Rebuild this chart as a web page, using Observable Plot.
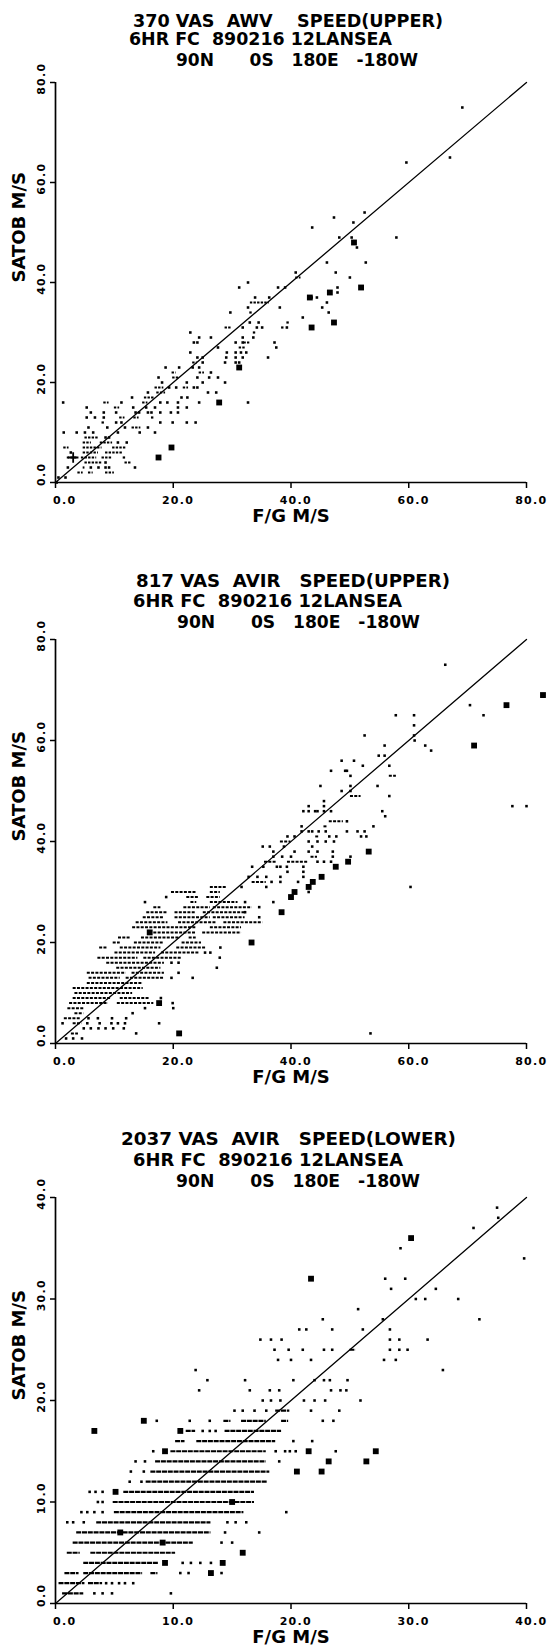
<!DOCTYPE html>
<html><head><meta charset="utf-8">
<script src="https://cdn.jsdelivr.net/npm/d3@7"></script>
<script src="https://cdn.jsdelivr.net/npm/@observablehq/plot@0.6"></script>
<style>
body{margin:0;background:#fff;}
#chart svg{display:block;}
</style></head><body><div id="chart"></div>
<script>
// ---------- text ----------
const titles1 = ["370 VAS  AWV    SPEED(UPPER)", "6HR FC  890216 12LANSEA", "90N      0S   180E   -180W"];
const titles2 = ["817 VAS  AVIR   SPEED(UPPER)", "6HR FC  890216 12LANSEA", "90N      0S   180E   -180W"];
const titles3 = ["2037 VAS  AVIR   SPEED(LOWER)", "6HR FC  890216 12LANSEA", "90N      0S   180E   -180W"];
const xLabel = "F/G M/S";
const yLabel = "SATOB M/S";
const ticks80 = [0, 20, 40, 60, 80];
const ticks40 = [0, 10, 20, 30, 40];
const diag80 = [0, 80];
const diag40 = [0, 40];

// ---------- panel 1 : [satob, fgFrom, fgTo] runs, [fg, satob] dots ----------
const runs1 = [[2,3.8,4.7],[2,5.6,6.4],[2,8.5,10.0],[3,4.7,5.0],[4,5.0,7.9],[4,11.8,13.0],
[5,2.0,3.8],[5,4.4,7.0],[5,7.9,9.7],[5,11.5,12.1],[6,4.7,7.3],[6,8.5,11.5],[7,1.4,2.3],[7,4.7,7.9],[7,9.7,12.1],
[8,4.7,6.1],[8,7.6,9.7],[9,5.0,7.3],[11,13.0,14.5],[12,7.9,8.5],[13,10.9,11.8],[13,13.3,14.2],[13,16.3,16.9],
[15,10.0,10.9],[16,8.2,9.1],[16,14.8,15.7],[17,15.1,16.9],[18,17.2,18.7],[19,16.9,18.4],[19,21.7,22.6],
[21,19.9,21.1],[22,19.8,20.5],[22,24.4,25.3],[24,23.3,24.1],[27,31.2,32.4],[28,32.0,33.0],[30,33.6,34.2],
[31,28.8,30.0],[31,38.4,39.0],[32,39.3,39.9],[34,33.0,33.6],[36,33.1,36.3],[41,40.8,41.7]];
const dots1 = [[0.2,0],[0.5,1],[1.7,1],[2.1,3],[6.0,3],[7.3,3],[8.5,3],[9.1,3],[13.5,3],[8.5,4],[2.6,6],[12.1,8],[10.6,8],[8.5,9],[9.1,9],
[1.4,10],[3.6,10],[5.0,10],[6.4,10],[10.6,10],[14.3,10],[16.9,10],[5.6,11],[8.8,11],[11.8,11],[15.7,11],
[10.3,12],[11.2,12],[17.8,12],[19.9,12],[22.3,12],[23.8,12],[5.3,13],[6.7,13],[8.2,13],
[6.0,14],[8.2,14],[10.3,14],[13.6,14],[14.2,14],[15.7,14],[16.3,14],[17.8,14],[19.6,14],[20.8,14],
[5.3,15],[13.2,15],[15.4,15],[16.9,15],[20.8,15],[22.3,15],[1.3,16],[11.2,16],[17.8,16],[19.0,16],[20.8,16],[24.4,16],[32.7,16],
[13.0,17],[21.4,17],[22.4,17],[15.7,18],[25.9,18],[27.3,18],[19.3,19],[20.5,19],[23.5,19],[24.1,19],
[18.1,20],[22.3,20],[25.0,20],[28.8,20],[17.5,21],[24.1,21],[26.1,21],[27.6,21],[26.4,22],
[18.7,23],[21.0,23],[23.3,23],[24.4,23],[25.0,24],[28.8,24],[30.6,24],[31.2,24],
[24.1,25],[25.0,25],[29.0,25],[30.6,25],[31.8,25],[36.1,25],[22.9,26],[29.1,26],[30.6,26],[31.5,26],[32.4,26],
[27.6,27],[37.5,27],[23.5,28],[24.1,28],[30.6,28],[31.8,28],[37.2,28],[24.4,29],[26.4,29],[31.8,29],[33.6,29],
[22.9,30],[31.8,31],[34.2,31],[35.1,31],[39.3,31],[33.0,32],[34.5,32],[42.0,33],[29.7,34],[46.4,34],
[32.7,35],[38.1,35],[45.3,35],[46.1,36],[33.9,37],[36.3,37],[43.5,37],[44.4,37],[46.4,38],[47.9,38],
[31.2,39],[37.8,39],[39.0,39],[47.9,39],[32.7,40],[50.0,41],[40.8,42],[47.6,42],[46.1,44],[52.7,44],
[51.2,47],[48.2,49],[50.3,49],[57.9,49],[43.6,51],[50.6,52],[47.3,53],[52.5,54],[59.6,64],[67.0,65],[69.1,75]];
const big1 = [[17.5,5],[19.7,7],[27.8,16],[31.2,23],[43.2,37],[43.5,31],[46.6,38],[47.3,32],[50.7,48],[51.9,39]];
const plus1 = [[3.0,5]];

// ---------- panel 2 ----------
const runs2 = [[2,2.7,3.9],[4,3.0,4.5],[5,1.5,4.2],[6,3.3,4.8],[7,2.1,4.8],[8,2.4,9.0],[8,10.5,16.7],
[9,3.0,9.5],[9,11.0,16.1],[10,3.3,13.1],[11,3.0,14.9],[12,5.4,14.9],[13,5.7,11.0],[13,12.0,18.5],
[14,5.4,12.0],[14,13.0,18.5],[15,10.4,17.9],[16,8.7,18.5],[17,7.2,14.0],[17,15.0,21.5],[18,10.1,17.0],[18,18.0,24.5],
[19,7.5,8.9],[19,11.0,17.9],[19,20.6,25.7],[20,9.8,11.0],[20,13.4,18.5],[20,21.5,24.8],[21,10.7,12.8],[21,14.6,21.2],[21,22.7,23.9],
[22,16.7,24.0],[22,25.0,31.6],[23,13.1,23.9],[23,26.3,31.6],[24,13.7,19.1],[24,20.9,27.4],[24,28.6,35.2],
[25,14.9,18.5],[25,20.3,26.3],[25,26.8,32.2],[26,15.5,19.1],[26,20.3,23.9],[26,25.1,32.2],
[27,16.7,17.9],[27,21.8,26.3],[27,26.8,33.4],[28,23.0,24.0],[28,26.3,31.0],[29,22.3,24.4],[29,25.7,28.0],
[30,19.7,23.9],[30,26.3,28.0],[31,26.3,29.2],[32,33.4,35.8],[36,35.5,37.6],[36,39.4,43.0],[37,43.4,44.5],
[40,38.2,40.0],[41,44.2,44.7],[43,45.6,46.2],[44,46.5,48.9],[49,50.1,51.9],[53,56.7,57.9]];
const dots2 = [[1.8,1],[3.0,1],[4.5,1],[13.7,2],[53.5,2],[4.8,3],[6.0,3],[7.3,3],[8.5,3],[9.8,3],[11.6,3],
[1.2,4],[5.4,4],[7.5,4],[9.5,4],[10.6,4],[11.8,4],[17.6,4],[5.6,5],[7.2,5],[9.6,5],[12.0,5],[13.1,6],
[15.2,7],[20.0,7],[19.9,8],[17.9,9],[19.7,13],[23.3,13],[20.9,14],[27.4,15],[19.7,16],[20.9,16],[27.9,17],
[25.4,18],[26.3,18],[28.0,19],[32.2,26],[34.6,25],[34.6,27],[15.2,28],[32.2,28],[37.0,28],[18.8,29],[43.0,30],
[31.6,31],[35.8,31],[60.3,31],[36.7,32],[38.2,32],[41.2,32],[32.8,33],[34.3,33],[35.8,33],[38.2,33],[42.1,33],
[39.4,34],[42.1,34],[33.4,35],[35.3,35],[37.6,35],[38.2,35],[39.3,35],[42.1,35],[44.5,36],[45.6,36],[46.8,36],
[37.0,37],[38.5,37],[40.0,37],[47.1,37],[50.1,37],[37.0,38],[40.6,38],[43.0,38],[44.5,38],[47.1,38],
[35.2,39],[36.4,39],[38.8,39],[43.6,39],[43.0,40],[44.5,40],[45.9,40],[47.3,40],
[39.4,41],[40.6,41],[46.5,41],[47.7,41],[51.9,41],[52.8,41],[41.8,42],[43.0,42],[43.6,42],[44.7,42],[45.9,42],[49.5,42],[51.3,42],[52.5,42],
[41.8,43],[54.0,43],[49.5,44],[56.0,45],[42.1,46],[43.0,46],[44.1,46],[44.5,46],[45.6,46],[46.8,46],[55.5,46],
[43.0,47],[45.6,47],[77.6,47],[80.0,47],[45.6,48],[56.7,49],[48.6,50],[50.1,50],[45.0,51],[50.1,51],[54.7,51],
[50.1,53],[46.8,54],[49.2,54],[49.5,54],[52.2,55],[56.7,55],[48.6,56],[50.7,56],[54.9,57],[55.9,57],[63.8,58],
[55.9,59],[62.8,59],[61.0,60],[52.5,61],[60.9,61],[60.9,63],[57.8,65],[60.9,65],[72.7,65],[70.4,67],[66.2,75]];
const big2 = [[21.0,2],[17.6,8],[16.0,22],[33.3,20],[38.4,26],[40.0,29],[40.6,30],[43.0,31],[43.7,32],[45.2,33],[47.6,35],[49.7,36],[53.2,38],[71.1,59],[76.6,67],[82.8,69]];

// ---------- panel 3 ----------
const runs3 = [[1,0.6,2.4],[2,0.3,2.5],[2,2.8,4.0],[3,0.8,2.0],[3,2.4,7.4],[3,8.1,8.7],[4,2.4,8.8],
[5,1.0,2.1],[5,3.0,10.2],[6,1.5,11.7],[7,1.8,13.2],[8,3.5,13.2],[9,5.0,16.0],[10,4.9,16.9],[11,5.8,16.9],
[12,7.7,18.0],[13,8.1,18.2],[14,8.5,17.9],[15,9.8,17.9],[16,10.2,11.0],[16,12.0,18.7],[17,11.1,11.9],[17,14.4,19.2],
[18,14.3,14.9],[18,15.8,17.9],[18,19.2,19.8],[19,18.7,19.9],[25,25.0,25.5]];
const dots3 = [[3.3,1],[4.0,1],[4.8,1],[9.8,1],[4.3,2],[4.8,2],[5.4,2],[5.9,2],[6.6,2],[10.6,3],[11.3,3],[14.1,3],
[10.8,4],[11.5,4],[12.3,4],[13.2,4],[14.1,6],[15.0,6],[14.4,7],[17.3,7],[1.0,8],[1.5,8],[2.4,8],[14.6,8],[15.3,8],[16.2,8],
[2.2,9],[2.7,9],[3.3,9],[4.0,9],[19.6,9],[3.6,10],[4.0,10],[2.9,11],[3.4,11],[4.0,11],[6.3,12],[7.3,12],
[6.4,13],[7.5,13],[6.8,14],[7.6,14],[19.0,14],[8.3,15],[18.7,15],[19.5,15],[19.9,15],[20.4,15],[23.8,15],
[20.2,16],[21.8,16],[12.5,17],[13.1,17],[13.6,17],[8.6,18],[11.4,18],[13.1,18],[22.7,18],[23.6,18],
[15.2,19],[15.9,19],[16.9,19],[17.9,19],[21.7,19],[24.1,19],[17.6,20],[18.3,20],[19.1,20],[21.1,20],[22.0,20],[22.9,20],[25.9,20],
[12.2,21],[16.5,21],[18.2,21],[19.0,21],[23.4,21],[24.2,21],[24.7,21],[12.9,22],[16.1,22],[20.2,22],[22.0,22],[22.8,22],[23.3,22],[24.8,22],
[11.9,23],[32.9,23],[18.9,24],[20.0,24],[21.7,24],[27.9,24],[28.9,24],[18.6,25],[19.8,25],[21.0,25],[22.8,25],[23.5,25],[28.4,25],[29.2,25],[29.9,25],
[17.4,26],[18.3,26],[19.2,26],[28.4,26],[29.2,26],[31.6,26],[20.7,27],[21.3,27],[23.5,27],[26.1,27],[28.4,27],
[22.7,28],[27.8,28],[36.0,28],[25.7,29],[30.6,30],[31.4,30],[34.2,30],[28.5,31],[32.3,31],[28.0,32],[29.7,32],
[39.8,34],[29.3,35],[35.5,37],[37.6,38],[37.5,39]];
const big3 = [[3.3,17],[7.5,18],[10.6,17],[9.3,15],[5.1,11],[15.0,10],[9.1,6],[5.5,7],[9.3,4],[14.2,4],[13.2,3],[15.9,5],
[20.5,13],[22.6,13],[23.2,14],[26.4,14],[21.5,15],[27.2,15],[21.7,32],[30.2,36]];

const FONT = "DejaVu Sans";

function panel(cfg) {
  const fmt = d => d.toFixed(1);
  const marks = [
    Plot.ruleY([0], {strokeWidth: 1.7}),
    Plot.ruleX([0], {strokeWidth: 1.7}),
    // tick marks only
    Plot.axisX({ticks: cfg.ticks, tickSize: 6, strokeWidth: 1.5, fill: "none", label: null}),
    Plot.axisY({ticks: cfg.ticks, tickSize: 5, strokeWidth: 1.5, fill: "none", label: null}),
    // tick labels only
    Plot.axisX({ticks: cfg.ticks, tickFormat: fmt, tickSize: 0, tickPadding: 0,
      textAnchor: "end", dx: 21, dy: 14, fontSize: 11, fontWeight: "bold", label: null}),
    Plot.axisY({ticks: cfg.ticks, tickFormat: fmt, tickSize: 0, tickPadding: 0,
      rotate: -90, textAnchor: "end", lineAnchor: "middle", dx: -14.5, dy: -20, fontSize: 11, fontWeight: "bold", label: null}),
    Plot.line(cfg.diag, {x: d => d, y: d => d, strokeWidth: 1.3, stroke: "black"}),
    Plot.ruleY(cfg.runs, {y: d => d[0], x1: d => d[1], x2: d => d[2], strokeWidth: cfg.runWidth, strokeDasharray: cfg.runDash, stroke: "black"}),
    Plot.dot(cfg.dots, {x: d => d[0], y: d => d[1], symbol: "square", r: 1.45, fill: "black"}),
    Plot.dot(cfg.big, {x: d => d[0], y: d => d[1], symbol: "square", r: 3.3, fill: "black"}),
    Plot.text([xLabel], {frameAnchor: "bottom", dy: 39, fontSize: 18, fontWeight: "bold", text: d => d}),
    Plot.text([yLabel], {frameAnchor: "left", dx: -36, rotate: -90, fontSize: 18, fontWeight: "bold", text: d => d})
  ];
  if (cfg.plus) marks.push(Plot.dot(cfg.plus, {x: d => d[0], y: d => d[1], symbol: "plus", r: 3.5, stroke: "black", strokeWidth: 1.8}));
  const plot = Plot.plot({
    width: 551, height: cfg.height,
    marginTop: cfg.mt, marginBottom: cfg.mb, marginLeft: 55, marginRight: 25,
    style: {fontFamily: FONT, background: "white", overflow: "visible", color: "black"},
    x: {domain: [0, cfg.max]},
    y: {domain: [0, cfg.max]},
    marks
  });
  const svg = d3.select(plot);
  svg.selectAll('g[aria-label="x-axis tick label"] text, g[aria-label="y-axis tick label"] text').attr("letter-spacing", 1.3);
  cfg.titles.forEach((t, i) => {
    svg.append("text")
      .attr("x", cfg.tx[i]).attr("y", cfg.ty[i])
      .attr("text-anchor", "start")
      .attr("textLength", cfg.tw[i]).attr("lengthAdjust", "spacingAndGlyphs")
      .attr("xml:space", "preserve").style("white-space", "pre")
      .attr("font-family", FONT).attr("font-size", 17).attr("font-weight", "bold").attr("fill", "black")
      .text(t);
  });
  document.getElementById("chart").appendChild(plot);
}

panel({titles: titles1, tx: [133, 129, 176], ty: [27, 45, 66], tw: [310, 263, 242],
  height: 540, mt: 82, mb: 58, max: 80, ticks: ticks80, diag: diag80, runs: runs1, dots: dots1, big: big1, plus: plus1,
  runWidth: 2.2, runDash: "2.4,1.2"});
panel({titles: titles2, tx: [136, 133, 177], ty: [47, 67, 88], tw: [314, 269, 243],
  height: 560, mt: 99, mb: 57, max: 80, ticks: ticks80, diag: diag80, runs: runs2, dots: dots2, big: big2,
  runWidth: 2.0, runDash: "3,1.3"});
panel({titles: titles3, tx: [121, 133, 176], ty: [45, 66, 87], tw: [335, 270, 244],
  height: 551, mt: 97, mb: 48, max: 40, ticks: ticks40, diag: diag40, runs: runs3, dots: dots3, big: big3,
  runWidth: 2.2, runDash: "5,0.8"});
</script></body></html>
